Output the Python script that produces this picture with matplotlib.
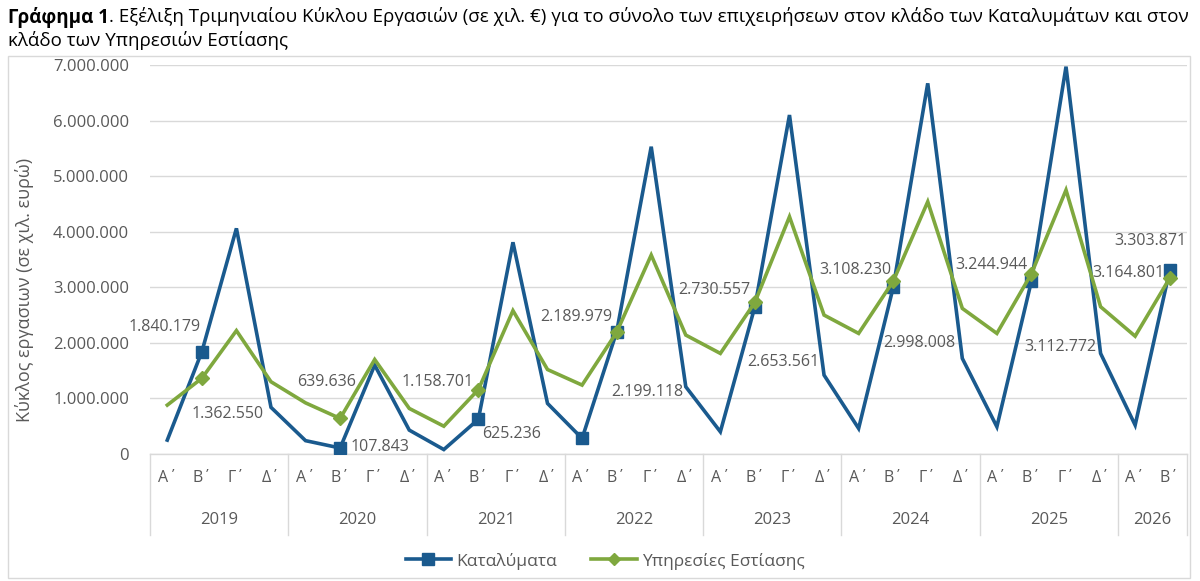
import matplotlib
matplotlib.use("Agg")
import matplotlib.pyplot as plt
import matplotlib.transforms as mtransforms
from matplotlib.lines import Line2D
from matplotlib.patches import Rectangle

plt.rcParams['font.family'] = ['Open Sans', 'DejaVu Sans']

years = ["2019", "2020", "2021", "2022", "2023", "2024", "2025", "2026"]
quarters = ["Α΄", "Β΄", "Γ΄", "Δ΄"]
year_quarters = [4, 4, 4, 4, 4, 4, 4, 2]

katalymata = [250000, 1840179, 4060000, 840000,
              240000, 107843, 1600000, 430000,
              80000, 625236, 3810000, 910000,
              280000, 2199118, 5530000, 1210000,
              400000, 2653561, 6100000, 1420000,
              460000, 2998008, 6670000, 1720000,
              490000, 3112772, 6970000, 1810000,
              520000, 3303871]
estiasi = [880000, 1362550, 2220000, 1300000,
           920000, 639636, 1700000, 820000,
           500000, 1158701, 2580000, 1520000,
           1240000, 2189979, 3580000, 2140000,
           1810000, 2730557, 4270000, 2500000,
           2170000, 3108230, 4540000, 2620000,
           2170000, 3244944, 4750000, 2650000,
           2120000, 3164801]

blue_marker_idx = [1, 5, 9, 12, 13, 17, 21, 25, 29]
green_marker_idx = [1, 5, 9, 13, 17, 21, 25, 29]

# label offsets in pixels (dx, dy downward positive)
blue_labels = {1: (-37, -25), 5: (40, -1), 9: (33, 15), 13: (31, 60),
               17: (28, 55), 21: (26, 56), 25: (29, 66), 29: (-19, -29)}
green_labels = {1: (26, 36), 5: (-14, -36), 9: (-41, -8), 13: (-40, -15),
                17: (-41, -12), 21: (-38, -11), 25: (-40, -9), 29: (-41, -5)}

BLUE = "#1A5A8E"
GREEN = "#7FA83E"
GRAY = "#595959"
GRID = "#D9D9D9"

W, H = 1200, 581
fig = plt.figure(figsize=(W / 100, H / 100), dpi=100)
ax = fig.add_axes([150 / W, 1 - 454 / H, (1187 - 150) / W, (454 - 65) / H])

n = len(katalymata)
x = list(range(n))
ax.plot(x, katalymata, color=BLUE, lw=2.6, marker="s", ms=8.5,
        markevery=blue_marker_idx, zorder=3, solid_joinstyle="miter")
ax.plot(x, estiasi, color=GREEN, lw=2.6, marker="D", ms=7,
        markevery=green_marker_idx, zorder=4, solid_joinstyle="miter")

def fmt(v):
    return f"{v:,}".replace(",", ".")

for i, (dx, dy) in blue_labels.items():
    ax.annotate(fmt(katalymata[i]), (i, katalymata[i]), xytext=(dx * 0.72, -dy * 0.72),
                textcoords="offset points", ha="center", va="center",
                fontsize=11.5, color=GRAY, zorder=5)
for i, (dx, dy) in green_labels.items():
    ax.annotate(fmt(estiasi[i]), (i, estiasi[i]), xytext=(dx * 0.72, -dy * 0.72),
                textcoords="offset points", ha="center", va="center",
                fontsize=11.5, color=GRAY, zorder=5)

ax.set_xlim(-0.5, n - 0.5)
ax.set_ylim(0, 7000000)
yt = list(range(0, 7000001, 1000000))
ax.set_yticks(yt)
ax.set_yticklabels([fmt(v) for v in yt], fontsize=12, color=GRAY)
ax.tick_params(axis="y", length=0, pad=15)
ax.set_xticks([])
ax.grid(axis="y", color=GRID, lw=1)
ax.set_axisbelow(True)
for s in ["top", "right", "left"]:
    ax.spines[s].set_visible(False)
ax.spines["bottom"].set_color(GRID)
ax.spines["bottom"].set_linewidth(1)

ax.set_ylabel("Κύκλος εργασιων (σε χιλ. ευρώ)", fontsize=13, color=GRAY)
ax.yaxis.set_label_coords((34 - 150) / 1037, (454 - 290) / 389)

# multi-level category axis
trans = mtransforms.blended_transform_factory(ax.transData, ax.transAxes)
ph = 454 - 65
qy = -(478 - 454) / ph
yy = -(520 - 454) / ph
sep_bottom = -(535 - 454) / ph
pos = 0
bounds = [-0.5]
for yr, nq in zip(years, year_quarters):
    for q in range(nq):
        ax.text(pos + q, qy, quarters[q], transform=trans, ha="center", va="center",
                fontsize=11.5, color=GRAY)
    ax.text(pos + (nq - 1) / 2, yy, yr, transform=trans, ha="center", va="center",
            fontsize=12, color=GRAY)
    pos += nq
    bounds.append(pos - 0.5)
for b in bounds:
    ax.add_line(Line2D([b, b], [0, sep_bottom], transform=trans, color=GRID,
                       lw=1, clip_on=False))

# legend
handles = [Line2D([], [], color=BLUE, lw=2.6, marker="s", ms=8.5),
           Line2D([], [], color=GREEN, lw=2.6, marker="D", ms=6)]
fig.legend(handles, ["Καταλύματα", "Υπηρεσίες Εστίασης"], loc="center",
           bbox_to_anchor=(605 / W, 1 - 561 / H), ncol=2, frameon=False,
           fontsize=12.5, labelcolor=GRAY, handlelength=2.6, columnspacing=2.0,
           handletextpad=0.3)

# chart border
fig.patches.append(Rectangle((8 / W, 1 - 578 / H), (1190 - 8) / W, (578 - 56) / H,
                             transform=fig.transFigure, fill=False,
                             edgecolor=GRID, lw=1))

# title
TS = 13.5
t1 = fig.text(8 / W, 1 - 17 / H, "Γράφημα 1", fontsize=TS, fontweight="bold",
              color="black", va="center", ha="left")
fig.canvas.draw()
bb = t1.get_window_extent()
fig.text(bb.x1 / W, 1 - 17 / H,
         ". Εξέλιξη Τριμηνιαίου Κύκλου Εργασιών (σε χιλ. €) για το σύνολο των επιχειρήσεων στον κλάδο των Καταλυμάτων και στον",
         fontsize=TS, color="black", va="center", ha="left")
fig.text(8 / W, 1 - 40 / H, "κλάδο των Υπηρεσιών Εστίασης", fontsize=TS,
         color="black", va="center", ha="left")

fig.savefig("out.png", dpi=100)
